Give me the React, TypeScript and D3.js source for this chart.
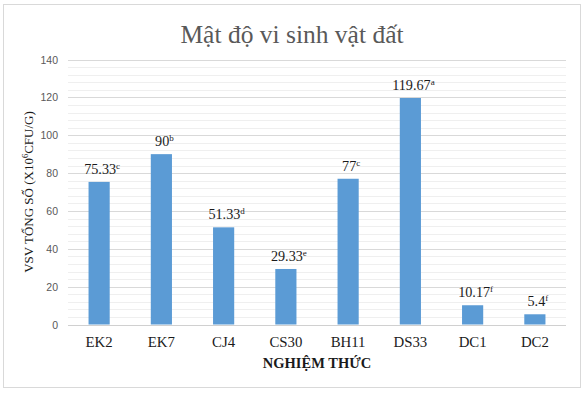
import React from "react";
import * as d3 from "d3";

const categories = ["EK2", "EK7", "CJ4", "CS30", "BH11", "DS33", "DC1", "DC2"];
const values = [75.33, 90, 51.33, 29.33, 77, 119.67, 10.17, 5.4];
const valueLabels = ["75.33", "90", "51.33", "29.33", "77", "119.67", "10.17", "5.4"];
const letters = ["c", "b", "d", "e", "c", "a", "f", "f"];
const majorTicks = [0, 20, 40, 60, 80, 100, 120, 140];
const minorTicks = d3.range(0, 141, 4);

const W = 585;
const H = 393;
const serif = "'Liberation Serif', 'Times New Roman', Times, serif";
const sans = "'Liberation Sans', Arial, sans-serif";

export default function App() {
  const x = d3.scaleBand<string>().domain(categories).range([68, 566]).paddingInner(0.66).paddingOuter(0.33);
  const y = d3.scaleLinear().domain([0, 140]).range([324.5, 59.5]);
  const sf = { fontFamily: serif };

  return (
    <svg width={W} height={H} style={{ position: "absolute", left: 0, top: 0, background: "#fff" }}>
      <rect x={3.5} y={4.5} width={577} height={383} fill="#fff" stroke="#d9d9d9" strokeWidth={1} />
      <text x={292} y={43} textAnchor="middle" style={sf} fontSize={25.5} fill="#595959">
        Mật độ vi sinh vật đất
      </text>
      {minorTicks.filter((t) => t % 20 !== 0).map((t) => (
        <line key={"m" + t} x1={68} x2={566} y1={Math.round(y(t)) + 0.5} y2={Math.round(y(t)) + 0.5} stroke="#efefef" strokeWidth={1} />
      ))}
      {majorTicks.map((t) => (
        <g key={"g" + t}>
          <line x1={68} x2={566} y1={Math.round(y(t)) + 0.5} y2={Math.round(y(t)) + 0.5} stroke={t === 0 ? "#d0d0d0" : "#d9d9d9"} strokeWidth={1} />
          <text x={58} y={y(t) + 4} textAnchor="end" style={{ fontFamily: sans }} fontSize={10.5} fill="#595959">
            {t}
          </text>
        </g>
      ))}
      {categories.map((c, i) => (
        <g key={c}>
          <rect x={x(c)} y={y(values[i])} width={x.bandwidth()} height={y(0) - y(values[i])} fill="#5b9bd5" />
          <text x={(x(c) as number) + x.bandwidth() / 2 + 3} y={y(values[i]) - 8} textAnchor="middle" style={sf} fontSize={14.2} fill="#1a1a1a">
            {valueLabels[i]}
            <tspan style={sf} fontSize={9} dy={-5}>{letters[i]}</tspan>
          </text>
          <text x={(x(c) as number) + x.bandwidth() / 2} y={347} textAnchor="middle" style={sf} fontSize={14.8} fill="#1a1a1a">
            {c}
          </text>
        </g>
      ))}
      <text x={317} y={368} textAnchor="middle" style={sf} fontSize={14.5} fontWeight="bold" fill="#1a1a1a">
        NGHIỆM THỨC
      </text>
      <text transform={`translate(33, ${192}) rotate(-90)`} textAnchor="middle" style={sf} fontSize={13} fill="#1a1a1a">
        VSV TỔNG SỐ (X10<tspan style={sf} fontSize={8.5} dy={-5}>6</tspan><tspan style={sf} dy={5}>CFU/G)</tspan>
      </text>
    </svg>
  );
}
